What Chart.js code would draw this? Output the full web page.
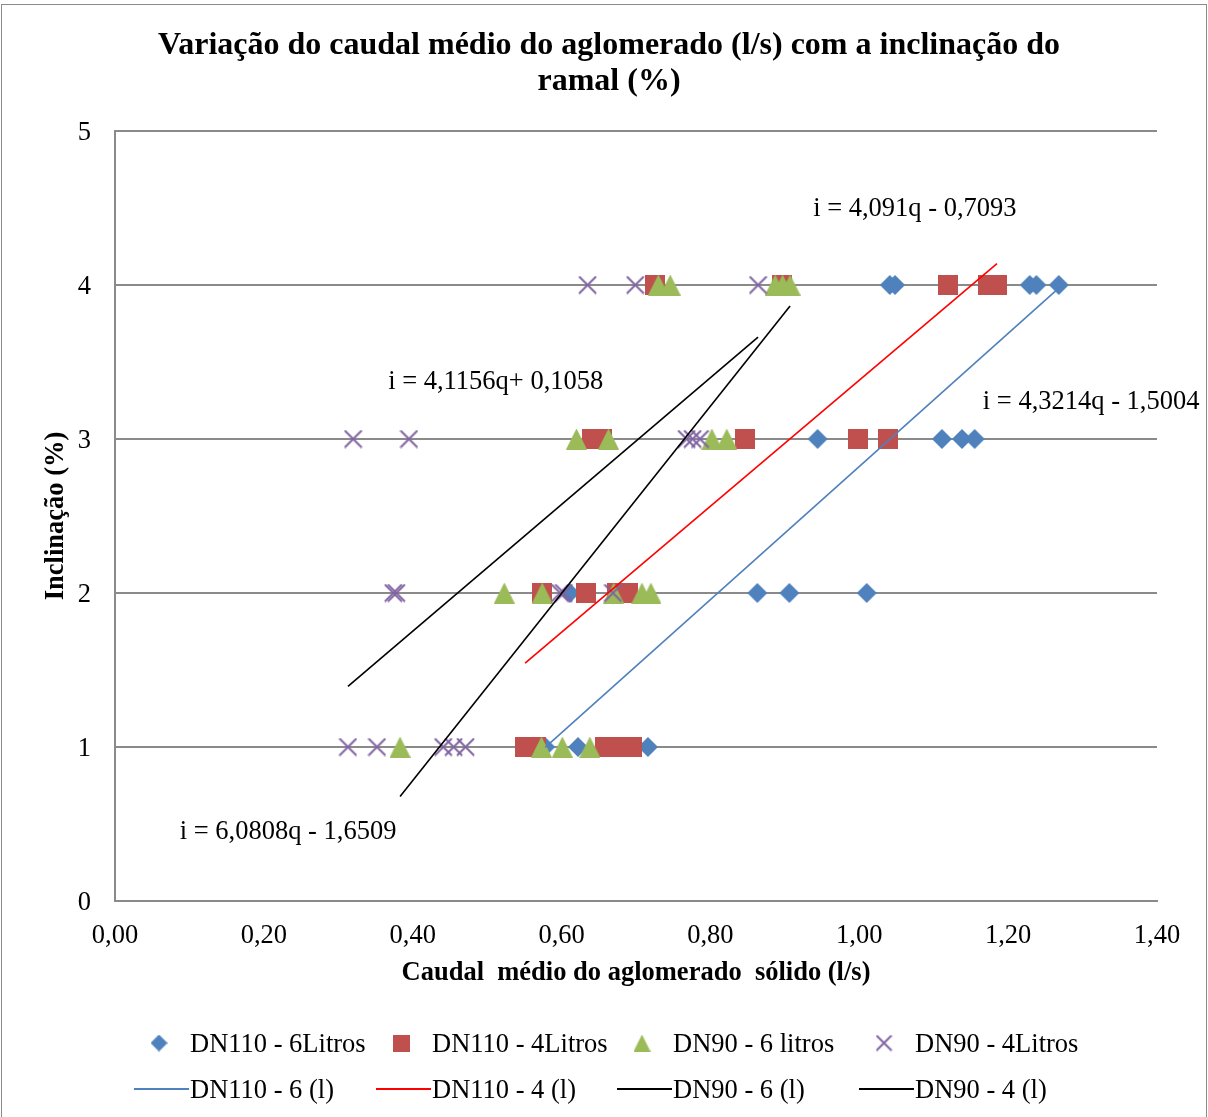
<!DOCTYPE html>
<html>
<head>
<meta charset="utf-8">
<script src="https://cdn.jsdelivr.net/npm/chart.js@4/dist/chart.umd.min.js"></script>
<style>
  body { margin: 0; background: #fff; }
  #wrap { width: 1208px; height: 1117px; }
</style>
</head>
<body>
<div id="wrap"><canvas id="grafico" width="1208" height="1117"></canvas></div>
<script>
// Dados (caudal q em l/s, inclinação i em %)
const dn110_6_q = [1.041, 1.048, 1.229, 1.238, 1.268, 0.944, 1.111, 1.138, 1.155, 0.611, 0.863, 0.906, 1.010, 0.578, 0.622, 0.716];
const dn110_6_i = [4, 4, 4, 4, 4, 3, 3, 3, 3, 2, 2, 2, 2, 1, 1, 1];

const dn110_4_q = [0.726, 0.896, 1.119, 1.173, 1.185, 0.641, 0.654, 0.846, 0.998, 1.038, 0.574, 0.633, 0.674, 0.689, 0.551, 0.565, 0.658, 0.685, 0.694];
const dn110_4_i = [4, 4, 4, 4, 4, 3, 3, 3, 3, 3, 2, 2, 2, 2, 1, 1, 1, 1, 1];

const dn90_6_q = [0.730, 0.746, 0.887, 0.897, 0.907, 0.620, 0.663, 0.802, 0.822, 0.523, 0.574, 0.670, 0.708, 0.720, 0.383, 0.573, 0.601, 0.638];
const dn90_6_i = [4, 4, 4, 4, 4, 3, 3, 3, 3, 2, 2, 2, 2, 2, 1, 1, 1, 1];

const dn90_4_q = [0.635, 0.699, 0.864, 0.320, 0.395, 0.768, 0.776, 0.786, 0.374, 0.378, 0.598, 0.603, 0.669, 0.313, 0.352, 0.441, 0.455, 0.471];
const dn90_4_i = [4, 4, 4, 3, 3, 3, 3, 3, 2, 2, 2, 2, 2, 1, 1, 1, 1, 1];

// Linhas de tendência (i = a*q + b)
const trendSlopes = [4.3214, 4.091, 6.0808, 4.1156];
const trendIntercepts = [-1.5004, -0.7093, -1.6509, 0.1058];
const equationTexts = ['i = 4,3214q - 1,5004', 'i = 4,091q - 0,7093', 'i = 6,0808q - 1,6509', 'i = 4,1156q+ 0,1058'];

const xTicks = [0, 0.2, 0.4, 0.6, 0.8, 1.0, 1.2, 1.4];
const yTicks = [0, 1, 2, 3, 4, 5];

const scatterNames = ['DN110 - 6Litros', 'DN110 - 4Litros', 'DN90 - 6 litros', 'DN90 - 4Litros'];
const trendNames = ['DN110 - 6 (l)', 'DN110 - 4 (l)', 'DN90 - 6 (l)', 'DN90 - 4 (l)'];

const FONT = '"Liberation Serif", "Times New Roman", serif';

function pontos(qs, is) {
    return qs.map((q, k) => ({ x: q, y: is[k] }));
}

function tendencia(qs, k) {
    const lo = Math.min(...qs), hi = Math.max(...qs);
    return [lo, hi].map(q => ({ x: q, y: trendSlopes[k] * q + trendIntercepts[k] }));
}

// Marcadores tipo Excel desenhados num canvas pequeno
function marcador(tipo, cor, s) {
    const c = document.createElement('canvas');
    c.width = s; c.height = s;
    const g = c.getContext('2d');
    const h = s / 2;
    g.fillStyle = cor;
    g.strokeStyle = cor;
    g.beginPath();
    if (tipo === 'diamante') {
        g.moveTo(h, 0); g.lineTo(s, h); g.lineTo(h, s); g.lineTo(0, h);
        g.closePath(); g.fill();
    } else if (tipo === 'quadrado') {
        g.fillRect(0, 0, s, s);
    } else if (tipo === 'triangulo') {
        g.moveTo(h, 0); g.lineTo(s, s); g.lineTo(0, s);
        g.closePath(); g.fill();
    } else {
        g.lineWidth = 2;
        g.moveTo(1, 1); g.lineTo(s - 1, s - 1);
        g.moveTo(s - 1, 1); g.lineTo(1, s - 1);
        g.stroke();
    }
    return c;
}

const series = [
    { q: dn110_6_q, i: dn110_6_i, cor: '#4F81BD', tipo: 'diamante', tam: 20, linha: '#4F81BD', ordem: 4 },
    { q: dn110_4_q, i: dn110_4_i, cor: '#C0504D', tipo: 'quadrado', tam: 20, linha: '#FF0000', ordem: 3 },
    { q: dn90_6_q, i: dn90_6_i, cor: '#9BBB59', tipo: 'triangulo', tam: 21, linha: '#000000', ordem: 2 },
    { q: dn90_4_q, i: dn90_4_i, cor: '#8064A2', tipo: 'x', tam: 19, linha: '#000000', ordem: 1 }
];
series.forEach(s => {
    s.img = marcador(s.tipo, s.cor, s.tam);
    s.imgLegenda = marcador(s.tipo, s.cor, 17);
});

const datasets = [];
series.forEach((s, k) => {
    datasets.push({
        label: trendNames[k],
        data: tendencia(s.q, k),
        showLine: true,
        borderColor: s.linha,
        borderWidth: 1.6,
        pointRadius: 0,
        order: 0
    });
});
series.forEach((s, k) => {
    datasets.push({
        label: scatterNames[k],
        data: pontos(s.q, s.i),
        pointStyle: s.img,
        pointRadius: s.tam / 2,
        showLine: false,
        order: s.ordem
    });
});

// Título, equações, legenda e moldura desenhados à mão
const extras = {
    id: 'extras',
    afterDraw(chart) {
        const ctx = chart.ctx;
        const xs = chart.scales.x, ys = chart.scales.y;
        ctx.save();

        // moldura exterior
        ctx.strokeStyle = '#8a8a8a';
        ctx.lineWidth = 1;
        ctx.strokeRect(1.5, 4.5, 1205, 1130);

        // título
        ctx.fillStyle = '#000';
        ctx.textAlign = 'center';
        ctx.textBaseline = 'middle';
        ctx.font = 'bold 32px ' + FONT;
        ctx.fillText('Variação do caudal médio do aglomerado (l/s) com a inclinação do', 609, 46);
        ctx.fillText('ramal (%)', 609, 82);

        // equações das linhas de tendência
        const eqPos = [[1.166, 3.24], [0.938, 4.495], [0.087, 0.445], [0.367, 3.372]];
        ctx.font = '26.5px ' + FONT;
        ctx.textAlign = 'left';
        equationTexts.forEach((t, k) => {
            ctx.fillText(t, xs.getPixelForValue(eqPos[k][0]), ys.getPixelForValue(eqPos[k][1]));
        });

        // legenda
        const colX = [190, 432, 673, 915];
        series.forEach((s, k) => {
            const tx = colX[k];
            ctx.fillStyle = '#000';
            ctx.fillText(scatterNames[k], tx, 1045);
            ctx.fillText(trendNames[k], tx, 1091);
            ctx.drawImage(s.imgLegenda, tx - 31 - 8.5, 1043 - 8.5);
            ctx.beginPath();
            ctx.strokeStyle = s.linha;
            ctx.lineWidth = 2;
            ctx.moveTo(tx - 56, 1089);
            ctx.lineTo(tx - 1, 1089);
            ctx.stroke();
        });
        ctx.restore();
    }
};

const ctx = document.getElementById('grafico').getContext('2d');
new Chart(ctx, {
    type: 'scatter',
    data: { datasets: datasets },
    options: {
        responsive: false,
        animation: false,
        layout: { padding: { top: 131, right: 51, bottom: 126, left: 0 } },
        plugins: {
            legend: { display: false },
            tooltip: { enabled: false }
        },
        scales: {
            x: {
                type: 'linear',
                min: 0,
                max: 1.4,
                afterBuildTicks: scale => { scale.ticks = xTicks.map(v => ({ value: v })); },
                afterFit: scale => { scale.height = 90; },
                grid: { display: false, drawTicks: false },
                border: { display: true, color: '#8a8a8a', width: 2 },
                ticks: {
                    color: '#000',
                    font: { family: FONT, size: 26.5 },
                    padding: 19,
                    maxRotation: 0,
                    callback: v => v.toFixed(2).replace('.', ',')
                },
                title: {
                    display: true,
                    text: 'Caudal  médio do aglomerado  sólido (l/s)',
                    color: '#000',
                    font: { family: FONT, size: 26.5, weight: 'bold' },
                    padding: { top: 0, bottom: 2 }
                }
            },
            y: {
                type: 'linear',
                min: 0,
                max: 5,
                afterBuildTicks: scale => { scale.ticks = yTicks.map(v => ({ value: v })); },
                afterFit: scale => { scale.width = 115; },
                grid: { color: '#8a8a8a', lineWidth: 2, drawTicks: false },
                border: { display: true, color: '#8a8a8a', width: 2 },
                ticks: {
                    color: '#000',
                    font: { family: FONT, size: 26.5 },
                    padding: 24,
                    labelOffset: 2
                },
                title: {
                    display: true,
                    text: 'Inclinação (%)',
                    color: '#000',
                    font: { family: FONT, size: 26.5, weight: 'bold' },
                    padding: { top: 40, bottom: 0 }
                }
            }
        }
    },
    plugins: [extras]
});
</script>
</body>
</html>
